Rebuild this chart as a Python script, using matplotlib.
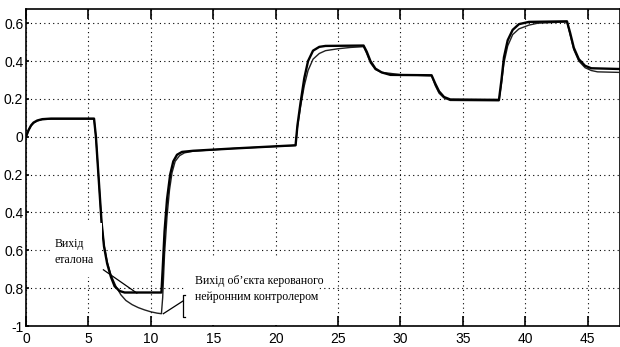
import matplotlib
matplotlib.use('Agg')
import matplotlib.pyplot as plt
from matplotlib import font_manager
from matplotlib.patches import Rectangle

# еталон (reference model output)
t_ref = [0, 0.2, 0.4, 0.6, 0.9, 1.3, 2.0, 5.45, 5.6, 5.75, 5.9, 6.05, 6.25, 6.5, 6.8, 7.1, 7.5, 7.9,
         10.85, 10.95, 11.1, 11.3, 11.55, 11.8, 12.1, 12.5, 13.4, 16.6, 21.6,
         21.75, 22.0, 22.3, 22.6, 23.0, 23.5, 24.0, 27.05,
         27.3, 27.6, 28.0, 28.5, 29.2, 32.5,
         32.8, 33.1, 33.5, 34.0, 37.9,
         38.1, 38.3, 38.6, 39.0, 39.5, 40.3, 43.35,
         43.6, 43.9, 44.3, 44.8, 45.3, 47.6]
y_ref = [0, 0.035, 0.06, 0.075, 0.086, 0.093, 0.096, 0.096, 0.0, -0.15, -0.3, -0.45, -0.58, -0.67, -0.74, -0.79, -0.815, -0.823,
         -0.823, -0.7, -0.5, -0.33, -0.2, -0.13, -0.095, -0.08, -0.074, -0.062, -0.045,
         0.06, 0.18, 0.31, 0.40, 0.455, 0.475, 0.48, 0.482,
         0.45, 0.40, 0.36, 0.34, 0.327, 0.325,
         0.28, 0.24, 0.21, 0.197, 0.195,
         0.30, 0.42, 0.51, 0.565, 0.595, 0.607, 0.61,
         0.55, 0.47, 0.41, 0.375, 0.362, 0.358]

# об'єкт з нейронним контролером (plant output)
t_obj = [0, 0.2, 0.4, 0.6, 0.9, 1.3, 2.0, 5.45, 5.6, 5.75, 5.9, 6.05, 6.25, 6.5, 6.8, 7.2, 7.6, 8.0, 8.5,
         9.0, 9.5, 10.0, 10.5, 10.85, 10.95, 11.1, 11.3, 11.5, 11.7, 11.95, 12.3, 12.7, 13.4, 16.6, 21.6,
         21.75, 22.0, 22.3, 22.6, 23.0, 23.5, 24.0, 25.0, 26.0, 27.05,
         27.3, 27.6, 28.0, 28.5, 29.2, 30.0, 32.5,
         32.8, 33.1, 33.5, 34.0, 37.9,
         38.1, 38.3, 38.6, 39.0, 39.5, 40.3, 41.0, 43.35,
         43.6, 43.9, 44.3, 44.8, 45.3, 45.8, 47.6]
y_obj = [0, 0.033, 0.057, 0.072, 0.084, 0.091, 0.093, 0.093, 0.0, -0.15, -0.3, -0.45, -0.57, -0.66, -0.73, -0.79, -0.835, -0.865, -0.887,
         -0.903, -0.915, -0.925, -0.932, -0.935, -0.85, -0.62, -0.42, -0.28, -0.19, -0.13, -0.10, -0.085, -0.076, -0.062, -0.046,
         0.05, 0.16, 0.27, 0.35, 0.41, 0.44, 0.455, 0.465, 0.472, 0.476,
         0.44, 0.39, 0.355, 0.34, 0.335, 0.328, 0.322,
         0.27, 0.23, 0.205, 0.192, 0.19,
         0.28, 0.39, 0.48, 0.54, 0.57, 0.59, 0.60, 0.607,
         0.54, 0.46, 0.40, 0.365, 0.35, 0.343, 0.34]

x_ticks = [0, 5, 10, 15, 20, 25, 30, 35, 40, 45]
y_ticks = [0.6, 0.4, 0.2, 0, -0.2, -0.4, -0.6, -0.8, -1]
y_tick_labels = ['0.6', '0.4', '0.2', '0', '0.2', '0.4', '0.6', '0.8', '-1']

label_ref = 'Вихід\nеталона'
label_obj = 'Вихід об’єкта керованого\nнейронним контролером'

# narrow font if there is one, else Liberation Sans
names = set(f.name for f in font_manager.fontManager.ttflist)
tick_font = 'Liberation Sans Narrow' if 'Liberation Sans Narrow' in names else 'Liberation Sans'

fig = plt.figure(figsize=(6.2, 3.47), dpi=100)
ax = fig.add_axes([0.042, 0.0605, 0.958, 0.9135])

ax.plot(t_obj, y_obj, color='#202020', lw=1.0, zorder=3)
ax.plot(t_ref, y_ref, color='black', lw=1.7, zorder=3)

ax.set_xlim(0, 47.6)
ax.set_ylim(-1, 0.675)
ax.set_xticks(x_ticks)
ax.set_yticks(y_ticks)
ax.set_yticklabels(y_tick_labels)
ax.grid(True, color='black', linestyle=(0, (1, 3)), linewidth=0.8)
ax.set_axisbelow(True)

for lab in ax.get_xticklabels() + ax.get_yticklabels():
    lab.set_fontfamily(tick_font)
    lab.set_fontsize(10)
ax.tick_params(axis='x', direction='in', length=7, width=1.2, top=True, pad=4)
ax.tick_params(axis='y', direction='in', length=2.5, width=1.2, pad=2)
for s in ax.spines.values():
    s.set_linewidth(1.2)

# white label boxes over grid
ax.add_patch(Rectangle((1.9, -0.74), 4.2, 0.285, facecolor='white', edgecolor='none', zorder=4))
ax.add_patch(Rectangle((12.75, -0.995), 10.75, 0.355, facecolor='white', edgecolor='none', zorder=2.5))

ax.text(2.3, -0.608, label_ref, family='Liberation Serif', fontsize=8.5, va='center', ha='left',
        linespacing=1.45, zorder=5)
ax.text(13.55, -0.805, label_obj, family='Liberation Serif', fontsize=8.5, va='center', ha='left',
        linespacing=1.45, zorder=5)

# pointers
ax.plot([6.2, 8.88], [-0.703, -0.826], color='black', lw=0.9, zorder=5)
ax.plot([12.75, 12.6, 12.6, 12.75], [-0.835, -0.835, -0.95, -0.95], color='black', lw=0.9, zorder=5)
ax.plot([12.6, 11.0], [-0.867, -0.935], color='black', lw=0.9, zorder=5)

fig.savefig('out.png', dpi=100)
